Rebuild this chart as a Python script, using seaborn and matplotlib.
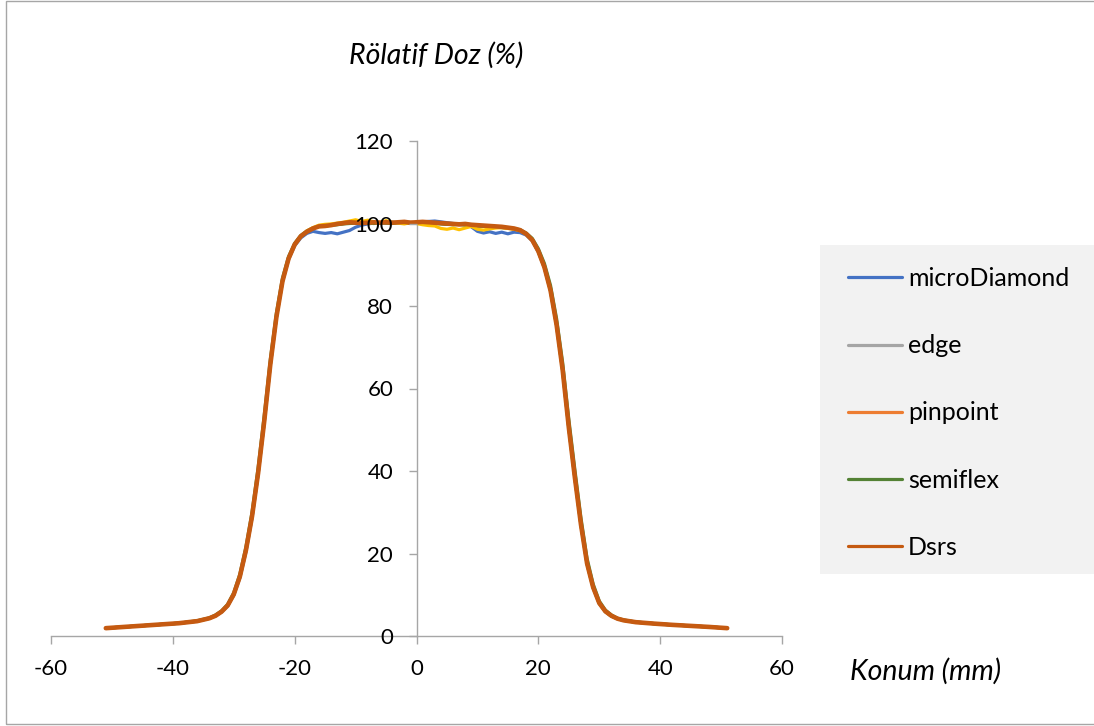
import numpy as np
import pandas as pd
import matplotlib
matplotlib.use("Agg")
import matplotlib.pyplot as plt
from matplotlib.lines import Line2D
from matplotlib.patches import Rectangle
import seaborn as sns

# ---------------- data ----------------
position_mm = [-51, -48, -45, -42, -39, -36,
               -34, -33, -32, -31, -30, -29, -28, -27, -26, -25, -24, -23, -22, -21, -20,
               -19, -18, -17, -16, -15, -14, -13, -12, -11, -10, -9, -8, -7, -6, -5, -4, -3, -2, -1,
               0, 1, 2, 3, 4, 5, 6, 7, 8, 9, 10, 11, 12, 13, 14, 15, 16, 17, 18, 19,
               20, 21, 22, 23, 24, 25, 26, 27, 28, 29, 30, 31, 32, 33, 34,
               36, 39, 42, 45, 48, 51]

microDiamond = [1.9, 2.2, 2.5, 2.8, 3.1, 3.6,
                4.3, 4.9, 5.8, 7.3, 9.9, 14.1, 20.4, 28.6, 39.2, 51.7, 65.6, 77.2, 85.9, 91.3, 94.6,
                96.5, 97.6, 98.1, 97.8, 97.6, 97.8, 97.5, 97.9, 98.3, 99.1, 99.6, 99.9, 100.1, 100.2, 100.1, 100.3, 100.2, 100.3, 100.1,
                100.2, 100.4, 100.5, 100.6, 100.4, 100.2, 100.0, 99.9, 99.7, 99.2, 98.1, 97.7, 98.0, 97.6, 97.9, 97.5, 97.9, 97.8, 97.2, 95.8,
                93.1, 89.3, 83.7, 75.3, 64.3, 50.5, 38.3, 26.9, 17.5, 11.7, 7.9, 5.9, 4.8, 4.2, 3.8,
                3.35, 3.0, 2.7, 2.45, 2.2, 1.9]

edge = [1.9, 2.2, 2.5, 2.8, 3.1, 3.6,
        4.3, 4.9, 5.9, 7.4, 10.0, 14.3, 20.7, 28.9, 39.4, 51.9, 65.7, 77.3, 86.0, 91.5, 94.9,
        96.9, 98.1, 98.9, 99.3, 99.5, 99.6, 99.8, 100.0, 100.1, 100.2, 100.1, 100.0, 100.2, 100.2, 100.1, 100.2, 100.2, 100.3, 100.1,
        100.2, 100.3, 100.2, 100.1, 100.0, 99.9, 99.8, 99.7, 99.8, 99.6, 99.5, 99.4, 99.3, 99.2, 99.1, 98.9, 98.7, 98.3, 97.4, 95.9,
        93.2, 89.3, 83.7, 75.3, 64.3, 50.5, 38.3, 26.9, 17.5, 11.7, 7.9, 5.9, 4.8, 4.2, 3.8,
        3.35, 3.0, 2.7, 2.45, 2.2, 1.9]

pinpoint = [1.9, 2.2, 2.5, 2.8, 3.1, 3.6,
            4.3, 4.9, 5.9, 7.4, 10.1, 14.4, 20.8, 29.0, 39.5, 52.0, 65.8, 77.3, 86.0, 91.5, 94.9,
            96.9, 98.0, 98.8, 99.3, 99.5, 99.7, 99.9, 100.0, 100.2, 100.1, 100.3, 100.2, 100.1, 100.3, 100.2, 100.1, 100.3, 100.2, 100.3,
            100.2, 100.3, 100.1, 100.2, 100.0, 99.8, 99.9, 99.7, 99.8, 99.6, 99.4, 99.5, 99.3, 99.2, 99.2, 98.9, 98.7, 98.4, 97.5, 96.0,
            93.3, 89.4, 83.8, 75.4, 64.4, 50.6, 38.4, 27.0, 17.6, 11.8, 8.0, 6.0, 4.9, 4.2, 3.8,
            3.35, 3.0, 2.7, 2.45, 2.2, 1.9]

semiflex = [1.9, 2.2, 2.5, 2.8, 3.1, 3.7,
            4.4, 5.1, 6.1, 7.7, 10.5, 15.0, 21.6, 30.0, 40.8, 53.4, 67.0, 78.3, 86.8, 92.0, 95.2,
            97.1, 98.2, 98.9, 99.3, 99.4, 99.6, 99.7, 99.9, 100.0, 100.1, 100.0, 100.1, 100.0, 100.2, 100.1, 100.0, 100.2, 100.1, 100.2,
            100.1, 100.2, 100.1, 100.0, 99.9, 99.8, 99.7, 99.8, 99.6, 99.6, 99.4, 99.3, 99.2, 99.1, 99.0, 98.9, 98.7, 98.5, 97.7, 96.4,
            93.9, 90.3, 85.0, 76.9, 66.2, 52.6, 40.3, 28.6, 18.8, 12.6, 8.5, 6.3, 5.1, 4.3, 3.9,
            3.4, 3.0, 2.7, 2.45, 2.2, 1.9]

extra_series = [1.9, 2.2, 2.5, 2.8, 3.1, 3.6,
                4.3, 4.9, 5.9, 7.4, 10.0, 14.3, 20.7, 28.9, 39.4, 51.9, 65.7, 77.3, 86.0, 91.5, 94.8,
                96.8, 98.2, 99.0, 99.6, 99.8, 99.9, 100.1, 100.3, 100.6, 100.9, 100.5, 100.8, 100.4, 100.2, 100.7, 100.3, 100.1, 99.9, 100.2,
                100.0, 99.7, 99.5, 99.4, 98.8, 98.6, 98.9, 98.5, 98.9, 99.3, 98.6, 98.4, 98.7, 98.9, 99.0, 98.8, 98.6, 98.3, 97.4, 95.9,
                93.2, 89.3, 83.7, 75.3, 64.3, 50.5, 38.3, 26.9, 17.5, 11.7, 7.9, 5.9, 4.8, 4.2, 3.8,
                3.35, 3.0, 2.7, 2.45, 2.2, 1.9]

Dsrs = [1.9, 2.2, 2.5, 2.8, 3.1, 3.6,
        4.3, 4.9, 5.9, 7.4, 10.1, 14.4, 20.8, 29.0, 39.5, 52.0, 65.8, 77.3, 86.0, 91.5, 94.9,
        96.9, 98.0, 98.8, 99.3, 99.4, 99.6, 99.9, 100.1, 100.3, 100.2, 100.1, 100.2, 100.3, 100.2, 100.3, 100.2, 100.3, 100.4, 100.2,
        100.3, 100.4, 100.3, 100.2, 100.1, 100.0, 99.9, 99.8, 99.9, 99.7, 99.6, 99.5, 99.4, 99.3, 99.2, 99.0, 98.8, 98.4, 97.5, 96.0,
        93.3, 89.4, 83.8, 75.4, 64.4, 50.6, 38.4, 27.0, 17.6, 11.8, 8.0, 6.0, 4.9, 4.2, 3.8,
        3.35, 3.0, 2.7, 2.45, 2.2, 1.9]

series_names = ["microDiamond", "edge", "pinpoint", "semiflex", "Dsrs"]
x_ticks = [-60, -40, -20, 0, 20, 40, 60]
y_ticks = [0, 20, 40, 60, 80, 100, 120]

# ---------------- style ----------------
sns.set_theme(style="white")
plt.rcParams["font.family"] = ["Lato", "DejaVu Sans"]

W, H = 1094, 726
fig = plt.figure(figsize=(W / 100, H / 100), dpi=100)
ax = fig.add_axes([51 / W, 1 - 636 / H, (782 - 51) / W, (636 - 141) / H])
ax.set_facecolor("none")

colors = {
    "microDiamond": "#4472C4",
    "edge": "#A5A5A5",
    "pinpoint": "#ED7D31",
    "semiflex": "#548235",
    "extra": "#FFC000",
    "Dsrs": "#C55A11",
}

plot_order = [("microDiamond", microDiamond, 2.3),
              ("edge", edge, 2.3),
              ("pinpoint", pinpoint, 2.3),
              ("semiflex", semiflex, 2.3),
              ("extra", extra_series, 2.3),
              ("Dsrs", Dsrs, 3.3)]

for name, vals, lw in plot_order:
    df = pd.DataFrame({"x": position_mm, "y": vals})
    sns.lineplot(data=df, x="x", y="y", ax=ax, color=colors[name], lw=lw,
                 sort=False, legend=False, solid_capstyle="round", solid_joinstyle="round")

ax.set_xlim(-60, 60)
ax.set_ylim(0, 120)
ax.set_xticks(x_ticks)
ax.set_yticks(y_ticks)
ax.set_xticklabels([str(v) for v in x_ticks])
ax.set_yticklabels([str(v) for v in y_ticks])
ax.set_xlabel("")
ax.set_ylabel("")
ax.set_axisbelow(False)

spine_col = "#A6A6A6"
for s in ["top", "right"]:
    ax.spines[s].set_visible(False)
ax.spines["left"].set_position(("data", 0))
ax.spines["bottom"].set_position(("data", 0))
for s in ["left", "bottom"]:
    ax.spines[s].set_color(spine_col)
    ax.spines[s].set_linewidth(1.0)
    ax.spines[s].set_zorder(1.5)

ax.tick_params(axis="x", direction="out", length=5.8, width=1.0, color=spine_col,
               labelsize=16, labelcolor="black", pad=11, bottom=True)
ax.tick_params(axis="y", direction="out", length=5.8, width=1.0, color=spine_col,
               labelsize=16, labelcolor="black", pad=11, left=True)
ax.grid(False)

# axis titles
fig.text(436.5 / W, 1 - 64 / H, "Rölatif Doz (%)", ha="center", va="baseline",
         fontsize=20.5, style="italic", color="black")
fig.text(850 / W, 1 - 680 / H, "Konum (mm)", ha="left", va="baseline",
         fontsize=20.5, style="italic", color="black")

# legend background
fig.patches.append(Rectangle((820 / W, 1 - 574 / H), (W - 820) / W + 0.01, (574 - 245) / H,
                             transform=fig.transFigure, facecolor="#F2F2F2", edgecolor="none",
                             zorder=0))

handles = [Line2D([0], [0], color=colors[n], lw=2.3) for n in series_names]
leg = fig.legend(handles, series_names, loc="upper left",
                 bbox_to_anchor=(848 / W, 1 - 267 / H), frameon=False,
                 fontsize=18, handlelength=2.16, handletextpad=0.24,
                 labelspacing=1.77, borderpad=0, borderaxespad=0)
for t in leg.get_texts():
    t.set_color("black")

# outer chart border
fig.patches.append(Rectangle((5.5 / W, 2 / H), 1.0, 1 - 3 / H,
                             transform=fig.transFigure, facecolor="none",
                             edgecolor="#A6A6A6", lw=1.0, zorder=5))

fig.savefig("out.png", dpi=100)
